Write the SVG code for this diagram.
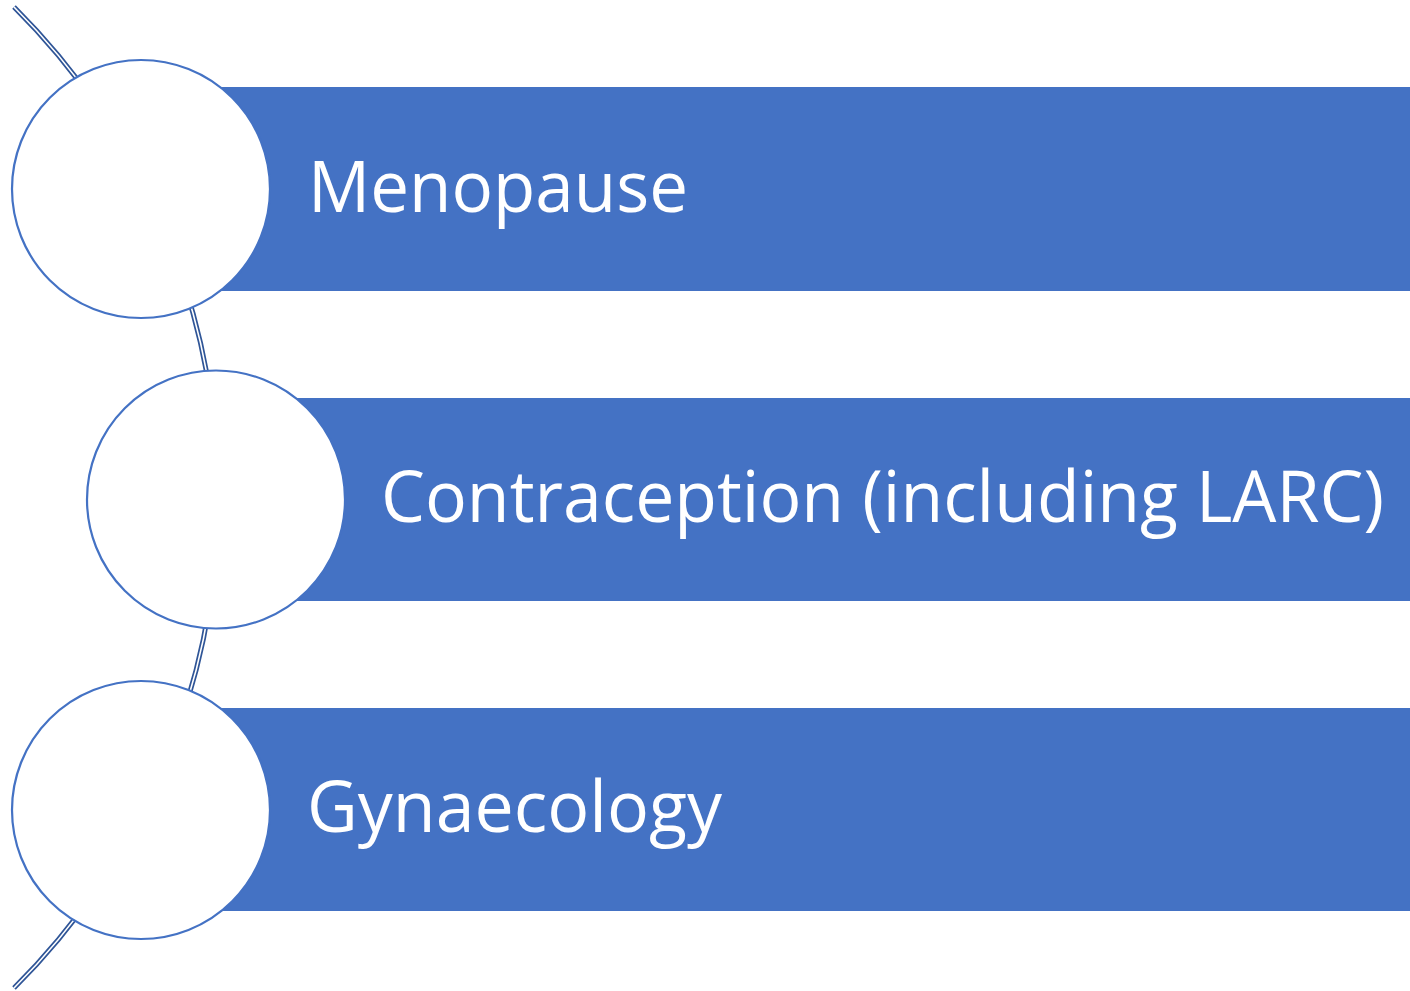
<svg xmlns="http://www.w3.org/2000/svg" width="1410" height="991" viewBox="0 0 1410 991">
  <style>
    .bar { fill: #4472C4; }
    .disc { fill: #FFFFFF; stroke: #4472C4; stroke-width: 2.2; }
    .lbl { fill: #FFFFFF; font-family: "Open Sans", "Noto Sans", "DejaVu Sans", sans-serif; font-size: 71px; }
    .arcOuter { fill: none; stroke: #2F5597; stroke-width: 5; }
    .arcInner { fill: none; stroke: #FFFFFF; stroke-width: 1.6; }
  </style>
  <rect width="1410" height="991" fill="#FFFFFF"/>
  <g id="connectors">
    <path class="arcOuter" d="M 14 7 A 692 692 0 0 1 14 988"/>
    <path class="arcInner" d="M 14 7 A 692 692 0 0 1 14 988"/>
  </g>
  <g id="node-menopause">
    <rect class="bar" x="141" y="87" width="1269" height="204"/>
    <circle class="disc" cx="141" cy="189" r="129"/>
    <text class="lbl" x="308" y="212" textLength="380" lengthAdjust="spacingAndGlyphs">Menopause</text>
  </g>
  <g id="node-contraception">
    <rect class="bar" x="216" y="398" width="1194" height="203"/>
    <circle class="disc" cx="216" cy="499.5" r="129"/>
    <text class="lbl" x="381" y="522" textLength="1003" lengthAdjust="spacingAndGlyphs">Contraception (including LARC)</text>
  </g>
  <g id="node-gynaecology">
    <rect class="bar" x="141" y="708" width="1269" height="203"/>
    <circle class="disc" cx="141" cy="810" r="129"/>
    <text class="lbl" x="307" y="832" textLength="415" lengthAdjust="spacingAndGlyphs">Gynaecology</text>
  </g>
</svg>
